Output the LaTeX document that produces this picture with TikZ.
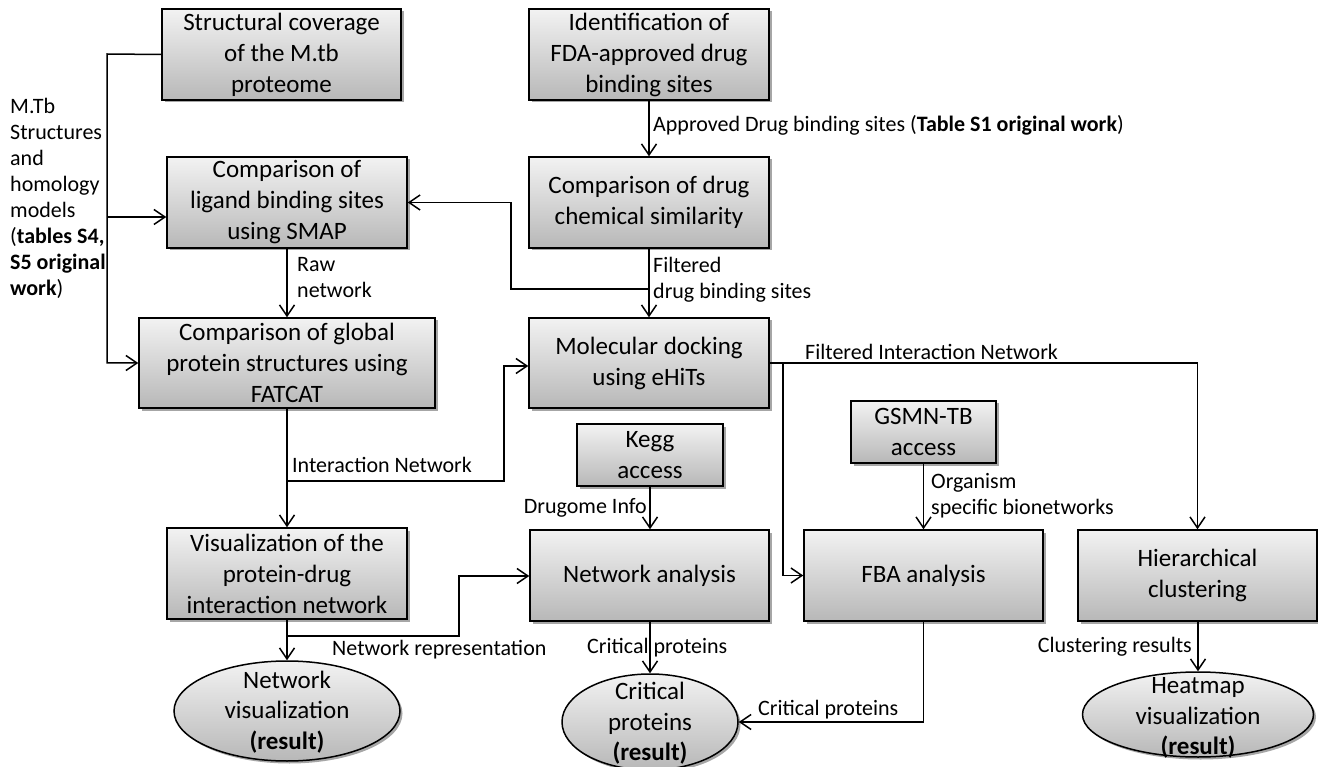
\documentclass[tikz,border=0pt]{standalone}
\usepackage{fontspec}
\setmainfont{Carlito}
\usetikzlibrary{arrows.meta,shapes.geometric,shadows}
\definecolor{boxtop}{gray}{0.95}
\definecolor{boxbot}{gray}{0.72}
\begin{document}
\begin{tikzpicture}[x=1pt,y=-1pt,
  box/.style={draw=black, line width=1.5pt, top color=boxtop, bottom color=boxbot,
    drop shadow={shadow xshift=2.5pt, shadow yshift=-2.5pt, opacity=0.35, fill=black},
    align=center, font=\fontsize{25}{31}\selectfont, inner sep=0pt},
  oval/.style={ellipse, draw=black, line width=1.5pt, top color=boxtop, bottom color=boxbot,
    drop shadow={shadow xshift=2.5pt, shadow yshift=-2.5pt, opacity=0.35, fill=black},
    inner sep=0pt},
  ovaltext/.style={align=center, font=\fontsize{25}{30.5}\selectfont, inner sep=0pt},
  lab/.style={font=\fontsize{22}{26}\selectfont, inner sep=0pt, align=left},
  arr/.style={line width=1.5pt, -{Straight Barb[length=11pt,width=15pt,line width=1.5pt]}}]
\useasboundingbox (0,0) rectangle (1318,767);

% boxes
\node[box, minimum width=239pt, minimum height=91pt] (A) at (281.5,54.5) {Structural coverage\\of the M.tb\\proteome};
\node[box, minimum width=240pt, minimum height=91pt] (B) at (287,202.5) {Comparison of\\ligand binding sites\\using SMAP};
\node[box, minimum width=296pt, minimum height=90pt] (C) at (287,363) {Comparison of global\\protein structures using\\FATCAT};
\node[box, minimum width=240pt, minimum height=91pt] (D) at (649,54.5) {Identification of\\FDA-approved drug\\binding sites};
\node[box, minimum width=240pt, minimum height=91pt] (E) at (649,202.5) {Comparison of drug\\chemical similarity};
\node[box, minimum width=240pt, minimum height=90pt] (F) at (649,363) {Molecular docking\\using eHiTs};
\node[box, minimum width=146pt, minimum height=62pt] (K) at (650,455) {Kegg\\access};
\node[box, minimum width=145pt, minimum height=62pt] (G) at (923.5,432) {GSMN-TB\\access};
\node[box, minimum width=240pt, minimum height=91pt] (V) at (287,573.5) {Visualization of the\\protein-drug\\interaction network};
\node[box, minimum width=239pt, minimum height=91pt] (NA) at (649.5,575.5) {Network analysis};
\node[box, minimum width=239pt, minimum height=91pt] (FBA) at (923.5,575.5) {FBA analysis};
\node[box, minimum width=239pt, minimum height=91pt] (HC) at (1197.5,575.5) {Hierarchical\\clustering};

% result ellipses
\node[oval, minimum width=226pt, minimum height=100pt] (NV) at (287,711) {};
\node[ovaltext] (NVt) at (287,712) {Network\\visualization\\\textbf{(result)}};
\node[oval, minimum width=176pt, minimum height=96pt] (CR) at (650,722) {};
\node[ovaltext] (CRt) at (650,723.5) {Critical\\proteins\\\textbf{(result)}};
\node[oval, minimum width=231pt, minimum height=85pt] (HM) at (1198,714.5) {};
\node[ovaltext] (HMt) at (1198,718) {Heatmap\\visualization\\\textbf{(result)}};

% labels
\node[lab, anchor=north west] (ml) at (10,98) {M.Tb\\Structures\\and\\homology\\models\\(\textbf{tables S4,}\\\textbf{S5 original}\\\textbf{work})};
\node[lab, anchor=west] (dl) at (653,125) {Approved Drug binding sites (\textbf{Table S1 original work})};
\node[lab, anchor=west] (fl) at (653,280) {Filtered\\drug binding sites};
\node[lab, anchor=west] (rl) at (297,278) {Raw\\network};
\node[lab, anchor=west] (il) at (292,465) {Interaction Network};
\node[lab, anchor=west] (fil) at (805,352) {Filtered Interaction Network};
\node[lab, anchor=west] (ol) at (931,496) {Organism\\specific bionetworks};
\node[lab, anchor=east] (dgl) at (647,508) {Drugome Info};
\node[lab, anchor=west] (nrl) at (332,650) {Network representation};
\node[lab, anchor=west] (cpl) at (587,648) {Critical proteins};
\node[lab, anchor=west] (cpl2) at (758,710) {Critical proteins};
\node[lab, anchor=east] (crl) at (1192,647) {Clustering results};

% junction coordinates
\coordinate (lx) at (107,54);
\coordinate (bj) at (107,217);
\coordinate (ef) at (649,289);
\coordinate (k1) at (511,202.5);
\coordinate (cv) at (287,481);
\coordinate (k2) at (504,366);
\coordinate (fb) at (783,363);
\coordinate (vb) at (287,636);
\coordinate (k3) at (459,576);

% connectors
\draw[arr] (A.west) -- (lx) |- (C.west);
\draw[arr] (bj) -- (bj -| B.west);
\draw[arr] (D.south) -- (E.north);
\draw[arr] (E.south) -- (F.north);
\draw[arr] (ef) -| (k1) -- (B.east);
\draw[arr] (B.south) -- (C.north);
\draw[arr] (C.south) -- (V.north);
\draw[arr] (cv) -| (k2) -- (k2 -| F.west);
\draw[arr] (F.east) -| (HC.north);
\draw[arr] (fb) |- (FBA.west);
\draw[arr] (G.south) -- (FBA.north);
\draw[arr] (K.south) -- (K.south |- NA.north);
\draw[arr] (V.south) -- (NV.north);
\draw[arr] (vb) -| (k3) -- (k3 -| NA.west);
\draw[arr] (NA.south -| CR.north) -- (CR.north);
\draw[arr] (FBA.south) |- (CR.east);
\draw[arr] (HC.south -| HM.north) -- (HM.north);
\end{tikzpicture}
\end{document}
